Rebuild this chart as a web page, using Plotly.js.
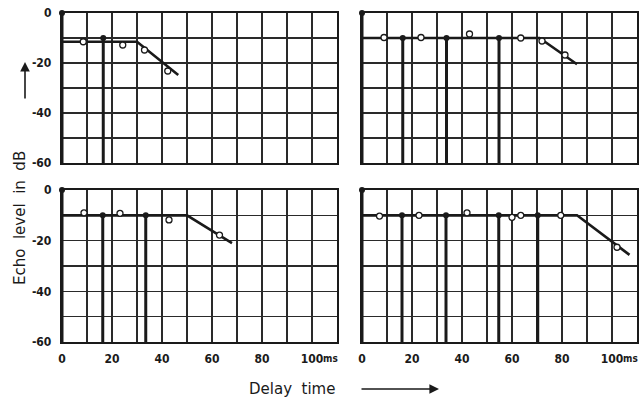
<!DOCTYPE html>
<html><head><meta charset="utf-8">
<script src="https://cdn.plot.ly/plotly-3.0.1.min.js"></script>
<style>html,body{margin:0;padding:0;background:#fff}#chart{width:642px;height:401px}</style>
</head><body><div id="chart"></div>
<script>
// ---- data ----
const xGridVals = [0,10,20,30,40,50,60,70,80,90,100,110];
const xTickText = ['0','','20','','40','','60','','80','','100',''];
const yGridVals = [-60,-50,-40,-30,-20,-10,0];
const yTickText = ['-60','','-40','','-20','','0'];

// panel A (top-left)
const aDecayX = [0, 30, 46.5];
const aDecayY = [-11.5, -11.5, -24.8];
const aReflX = [0, 16.5];
const aReflY = [0, -10];
const aMeasX = [8.5, 24.3, 33, 42.3];
const aMeasY = [-11.5, -12.8, -14.8, -23.2];

// panel B (top-right)
const bDecayX = [0, 71, 86];
const bDecayY = [-10, -10, -20.5];
const bReflX = [0, 16.3, 33.8, 54.8];
const bReflY = [0, -10, -10, -10];
const bMeasX = [8.8, 23.6, 43, 63.5, 72, 81.2];
const bMeasY = [-9.8, -9.8, -8.4, -10, -11.2, -16.8];

// panel C (bottom-left)
const cDecayX = [0, 50, 68];
const cDecayY = [-10, -10, -21];
const cReflX = [0, 16.3, 33.5];
const cReflY = [0, -10, -10];
const cMeasX = [8.8, 23.2, 42.8, 63];
const cMeasY = [-9, -9.2, -11.8, -17.8];

// panel D (bottom-right)
const dDecayX = [0, 86, 107];
const dDecayY = [-10, -10, -25.6];
const dReflX = [0, 16, 33.6, 54.7, 70.3];
const dReflY = [0, -10, -10, -10, -10];
const dMeasX = [7, 22.8, 42, 60, 63.5, 79.5, 102];
const dMeasY = [-10.3, -10, -9, -10.8, -10, -10, -22.6];

const floorLevel = -60;

// ---- build ----
const panels = [
  {xa:'x', ya:'y', dx:aDecayX, dy:aDecayY, rx:aReflX, ry:aReflY, mx:aMeasX, my:aMeasY},
  {xa:'x2', ya:'y2', dx:bDecayX, dy:bDecayY, rx:bReflX, ry:bReflY, mx:bMeasX, my:bMeasY},
  {xa:'x3', ya:'y3', dx:cDecayX, dy:cDecayY, rx:cReflX, ry:cReflY, mx:cMeasX, my:cMeasY},
  {xa:'x4', ya:'y4', dx:dDecayX, dy:dDecayY, rx:dReflX, ry:dReflY, mx:dMeasX, my:dMeasY}
];
const ink = '#1a1a1a';
const traces = [];
panels.forEach(p => {
  const sx = [], sy = [];
  p.rx.forEach((x,i) => { sx.push(x, x, null); sy.push(p.ry[i], floorLevel, null); });
  traces.push({type:'scatter', mode:'lines', x:sx, y:sy, xaxis:p.xa, yaxis:p.ya,
    line:{color:ink, width:3}, cliponaxis:false, hoverinfo:'skip'});
  traces.push({type:'scatter', mode:'markers', x:p.rx, y:p.ry, xaxis:p.xa, yaxis:p.ya,
    marker:{color:ink, size:6}, cliponaxis:false});
  traces.push({type:'scatter', mode:'lines', x:p.dx, y:p.dy, xaxis:p.xa, yaxis:p.ya,
    line:{color:ink, width:2.6}, cliponaxis:false});
  traces.push({type:'scatter', mode:'markers', x:p.mx, y:p.my, xaxis:p.xa, yaxis:p.ya,
    marker:{symbol:'circle', color:'#ffffff', size:6, line:{width:1.3, color:ink}}, cliponaxis:false});
});

const W = 642, H = 401;
const xdL = [62/W, 337/W], xdR = [362/W, 637/W];
const ydT = [(H-163)/H, (H-13)/H], ydB = [(H-342)/H, (H-190)/H];
const fam = 'DejaVu Sans Condensed, DejaVu Sans, sans-serif';
const tickFont = {family:fam, size:12, color:ink, weight:'bold'};

function xax(domain, anchor, labels){
  return {domain, anchor, range:[0,110], tickmode:'array', tickvals:xGridVals,
    ticktext: labels ? xTickText : xGridVals.map(()=> ''), ticks:'', showgrid:true,
    gridcolor:'#2a2a2a', gridwidth:1.3, zeroline:false, showline:true, mirror:true,
    linecolor:ink, linewidth:2.2, tickfont:tickFont, ticklabelstandoff:4, fixedrange:true};
}
function yax(domain, anchor, labels){
  return {domain, anchor, range:[-60,0], tickmode:'array', tickvals:yGridVals,
    ticktext: labels ? yTickText : yGridVals.map(()=> ''), ticks:'', showgrid:true,
    gridcolor:'#2a2a2a', gridwidth:1.3, zeroline:false, showline:true, mirror:true,
    linecolor:ink, linewidth:2.2, tickfont:tickFont, ticklabelstandoff:6, fixedrange:true};
}

const layout = {
  width:W, height:H, margin:{l:0,r:0,t:0,b:0}, showlegend:false,
  paper_bgcolor:'#fff', plot_bgcolor:'#fff',
  xaxis: xax(xdL,'y',false), yaxis: yax(ydT,'x',true),
  xaxis2: xax(xdR,'y2',false), yaxis2: yax(ydT,'x2',false),
  xaxis3: xax(xdL,'y3',true), yaxis3: yax(ydB,'x3',true),
  xaxis4: xax(xdR,'y4',true), yaxis4: yax(ydB,'x4',false),
  annotations:[
    {xref:'x3', yref:'y3', x:100, y:-60, xshift:9, yshift:-16, xanchor:'left', yanchor:'middle',
     text:'ms', showarrow:false, font:{family:fam, size:10, color:ink, weight:'bold'}},
    {xref:'x4', yref:'y4', x:100, y:-60, xshift:9, yshift:-16, xanchor:'left', yanchor:'middle',
     text:'ms', showarrow:false, font:{family:fam, size:10, color:ink, weight:'bold'}},
    {xref:'paper', yref:'paper', x:20/W, y:(H-218)/H, xanchor:'center', yanchor:'middle',
     textangle:-90, text:'Echo  level  in  dB',
     showarrow:false, font:{family:'DejaVu Sans', size:15, color:ink}},
    {xref:'paper', yref:'paper', x:292/W, y:(H-389)/H, xanchor:'center', yanchor:'middle',
     text:'Delay  time',
     showarrow:false, font:{family:'DejaVu Sans', size:15, color:ink}},
    {xref:'paper', yref:'paper', x:25/W, y:(H-62)/H, ax:0, ay:38, text:'', showarrow:true,
     arrowhead:2, arrowsize:1.2, arrowwidth:1.6, arrowcolor:ink},
    {xref:'paper', yref:'paper', x:439/W, y:(H-389)/H, ax:-79, ay:0, text:'', showarrow:true,
     arrowhead:2, arrowsize:1.2, arrowwidth:1.6, arrowcolor:ink}
  ]
};
Plotly.newPlot('chart', traces, layout, {staticPlot:true, displayModeBar:false});
</script></body></html>
